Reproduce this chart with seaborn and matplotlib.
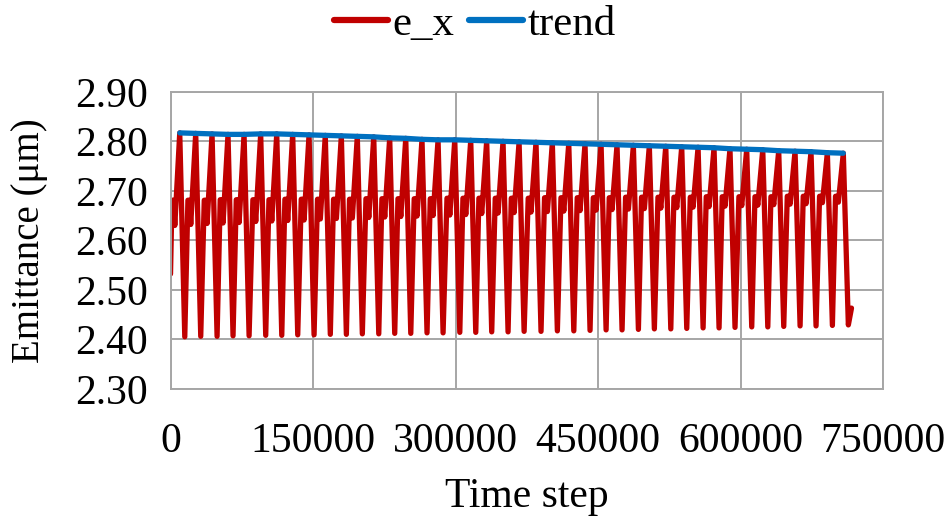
import numpy as np
import pandas as pd
import matplotlib
matplotlib.use("Agg")
import matplotlib.pyplot as plt
import seaborn as sns

# ---- data ----
peak_steps = [9700, 26500, 43700, 60500, 77400, 94900, 111800, 128600, 145800, 162900,
              179800, 196600, 213900, 230700, 247600, 264700, 281600, 299200, 316000, 332800,
              350000, 366900, 384700, 401900, 419200, 436300, 453200, 470000, 487200, 504000,
              521300, 538100, 555300, 572100, 588900, 606500, 623400, 640200, 657400, 674200,
              691400, 708200]
peak_vals = [2.817, 2.816, 2.815, 2.814, 2.814, 2.815, 2.815, 2.814, 2.813, 2.812,
             2.811, 2.810, 2.809, 2.807, 2.806, 2.804, 2.803, 2.803, 2.802, 2.801,
             2.800, 2.799, 2.798, 2.797, 2.796, 2.795, 2.794, 2.793, 2.792, 2.791,
             2.790, 2.789, 2.788, 2.787, 2.785, 2.784, 2.783, 2.781, 2.780, 2.779,
             2.777, 2.776]
trough_vals = [2.405, 2.406, 2.406, 2.407, 2.407, 2.408, 2.408, 2.409, 2.409, 2.410,
               2.410, 2.411, 2.411, 2.412, 2.412, 2.413, 2.413, 2.414, 2.414, 2.415,
               2.415, 2.416, 2.416, 2.417, 2.417, 2.418, 2.419, 2.419, 2.420, 2.421,
               2.421, 2.422, 2.423, 2.423, 2.424, 2.425, 2.425, 2.426, 2.427, 2.427,
               2.428, 2.429]
shoulder_vals = [2.681, 2.681, 2.681, 2.682, 2.682, 2.682, 2.682, 2.683, 2.683, 2.683,
                 2.683, 2.683, 2.684, 2.684, 2.684, 2.684, 2.684, 2.685, 2.685, 2.685,
                 2.685, 2.685, 2.685, 2.686, 2.686, 2.686, 2.686, 2.686, 2.687, 2.687,
                 2.687, 2.687, 2.687, 2.688, 2.688, 2.688, 2.688, 2.688, 2.689, 2.689,
                 2.689, 2.689]
notch_vals = [2.630, 2.632, 2.634, 2.635, 2.636, 2.638, 2.639, 2.640, 2.641, 2.643,
              2.644, 2.645, 2.646, 2.647, 2.648, 2.649, 2.650, 2.651, 2.652, 2.654,
              2.655, 2.656, 2.657, 2.658, 2.659, 2.660, 2.661, 2.662, 2.663, 2.664,
              2.665, 2.666, 2.667, 2.668, 2.669, 2.670, 2.671, 2.672, 2.673, 2.674,
              2.676, 2.677]
# step offsets (relative to each peak)
shoulder_start_dt = -8200
shoulder_end_dt = -6600
notch_dt = -5200
trough_dt = 5300
start_point = (0, 2.532)
end_point = (716800, 2.463)

x_ticks = [0, 150000, 300000, 450000, 600000, 750000]
y_ticks = [2.30, 2.40, 2.50, 2.60, 2.70, 2.80, 2.90]

# ---- assemble e_x series ----
steps = [start_point[0]]
vals = [start_point[1]]
for i, tp in enumerate(peak_steps):
    steps += [tp + shoulder_start_dt, tp + shoulder_end_dt, tp + notch_dt, tp, tp + trough_dt]
    vals += [shoulder_vals[i], shoulder_vals[i], notch_vals[i], peak_vals[i], trough_vals[i]]
steps.append(end_point[0])
vals.append(end_point[1])

df_ex = pd.DataFrame({"step": steps, "val": vals, "series": "e_x"})
df_tr = pd.DataFrame({"step": peak_steps, "val": peak_vals, "series": "trend"})
df = pd.concat([df_ex, df_tr], ignore_index=True)

sns.set_theme(style="white")
plt.rcParams["font.family"] = ["Liberation Serif", "DejaVu Serif"]
plt.rcParams["text.color"] = "black"
plt.rcParams["axes.labelcolor"] = "black"

fig = plt.figure(figsize=(9.5, 5.19), dpi=100)
ax = fig.add_axes([0.1795, 0.2509, 0.75, 0.5722])

sns.lineplot(data=df, x="step", y="val", hue="series", sort=False,
             palette={"e_x": "#C00000", "trend": "#0070C0"},
             linewidth=3.8, ax=ax, legend=True, estimator=None)

ax.set_xlim(0, 750000)
ax.set_ylim(2.30, 2.90)
ax.set_xticks(x_ticks)
ax.set_xticklabels([str(v) for v in x_ticks])
ax.set_yticks(y_ticks)
ax.set_yticklabels([f"{v:.2f}" for v in y_ticks])
ax.grid(True, color="#a6a6a6", linewidth=1.4)
ax.set_axisbelow(True)
for s in ax.spines.values():
    s.set_color("#a6a6a6")
    s.set_linewidth(1.4)
ax.tick_params(axis="both", length=0, labelsize=30, colors="black")
ax.tick_params(axis="x", pad=24)
ax.tick_params(axis="y", pad=16)
ax.set_xlabel("Time step", fontsize=30, color="black")
ax.set_ylabel("Emittance (\u03bcm)", fontsize=28, color="black")
ax.xaxis.set_label_coords(0.5, -0.30)
ax.yaxis.set_label_coords(-0.172, 0.5)

handles, labels = ax.get_legend_handles_labels()
ax.get_legend().remove()
leg = fig.legend(handles, labels, loc="center", bbox_to_anchor=(0.5, 0.952),
                 ncol=2, frameon=False, fontsize=31, handlelength=1.25,
                 handletextpad=0.1, columnspacing=0.35)
for h in leg.legend_handles:
    h.set_linewidth(4.5)
for t in leg.get_texts():
    t.set_color("black")

fig.savefig("out.png", dpi=100)
